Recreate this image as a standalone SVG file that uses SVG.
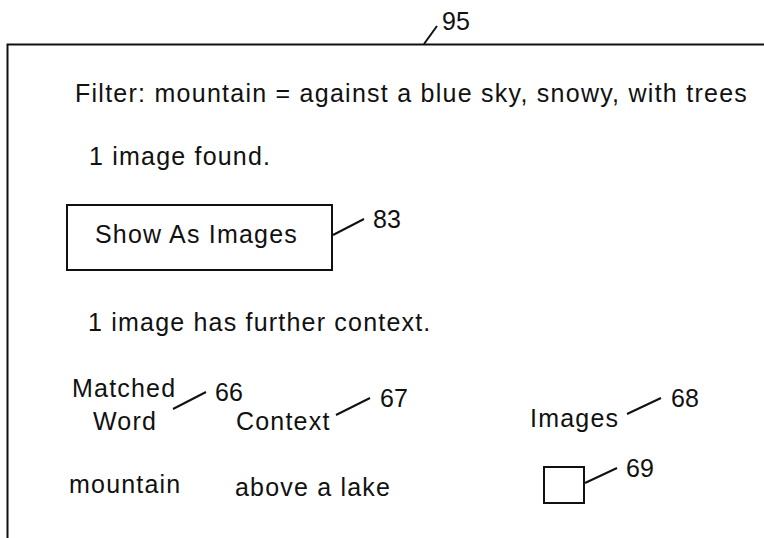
<svg xmlns="http://www.w3.org/2000/svg" width="764" height="538" viewBox="0 0 764 538">
<style>
.t{font-family:"Liberation Sans",Arial,Helvetica,sans-serif;font-size:25px;letter-spacing:1.2px;fill:#111}
.n{font-family:"Liberation Sans",Arial,Helvetica,sans-serif;font-size:25px;fill:#111}
.ln{stroke:#111;stroke-width:2;fill:none}
</style>
<rect width="764" height="538" fill="#fff"/>
<g id="frame95">
<path class="ln" d="M7.5 538 V44.5 H764"/>
<text class="n" x="442" y="30">95</text>
</g>
<g id="filter"><text class="t" x="75" y="102" textLength="673" lengthAdjust="spacing">Filter: mountain = against a blue sky, snowy, with trees</text></g>
<g id="found"><text class="t" x="89" y="165">1 image found.</text></g>
<g id="button83">
<rect class="ln" x="67" y="205" width="265" height="65"/>
<text class="t" x="95" y="243">Show As Images</text>
<text class="n" x="373" y="228">83</text>
</g>
<g id="further"><text class="t" x="88" y="331">1 image has further context.</text></g>
<g id="col66">
<text class="t" x="72" y="397">Matched</text>
<text class="t" x="93" y="430">Word</text>
<text class="n" x="215" y="401">66</text>
</g>
<g id="col67">
<text class="t" x="236" y="430">Context</text>
<text class="n" x="380" y="407">67</text>
</g>
<g id="col68">
<text class="t" x="530" y="427">Images</text>
<text class="n" x="671" y="407">68</text>
</g>
<g id="word"><text class="t" x="69" y="493">mountain</text></g>
<g id="context"><text class="t" x="235" y="496">above a lake</text></g>
<g id="thumb69">
<rect class="ln" x="544" y="467" width="40" height="36"/>
<text class="n" x="626" y="477">69</text>
</g>
<g id="connectors">
<line class="ln" x1="424" y1="44" x2="437" y2="26"/>
<line class="ln" x1="333" y1="235" x2="364" y2="219"/>
<line class="ln" x1="173" y1="409" x2="206" y2="392"/>
<line class="ln" x1="336" y1="415" x2="370" y2="398"/>
<line class="ln" x1="627" y1="414" x2="661" y2="398"/>
<line class="ln" x1="585" y1="483" x2="617" y2="468"/>
</g>
</svg>
